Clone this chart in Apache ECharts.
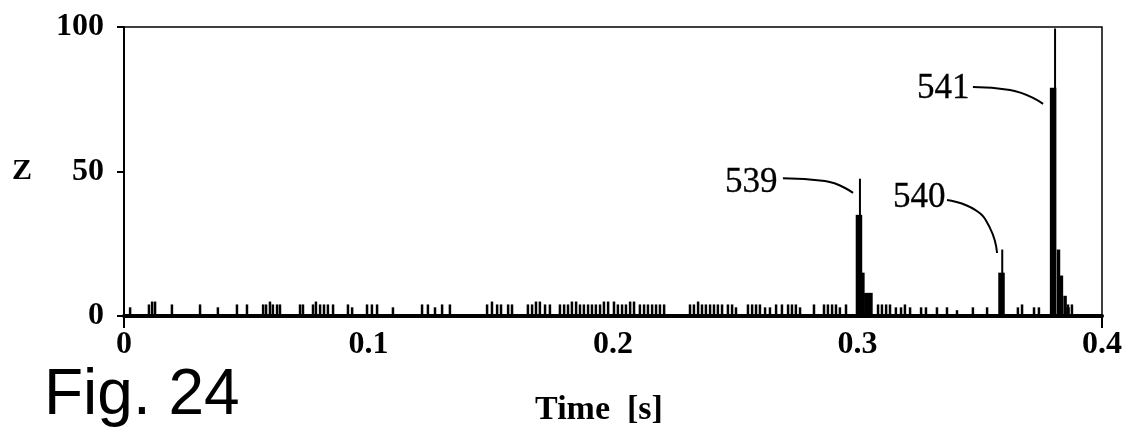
<!DOCTYPE html>
<html>
<head>
<meta charset="utf-8">
<script src="https://cdn.jsdelivr.net/npm/echarts@6/dist/echarts.min.js"></script>
<style>
html,body{margin:0;padding:0;background:#fff;}
#chart{width:1141px;height:432px;}
</style>
</head>
<body>
<div id="chart"></div>
<script>
// ---- data ----
const xTicks = [0, 0.1, 0.2, 0.3, 0.4];
const yTicks = [0, 50, 100];

// small background spikes: time [s] and Z value
const noiseTimes = [0.0025,0.0102,0.0115,0.0127,0.0196,0.0311,0.0384,0.0462,0.0503,0.0569,0.0581,0.0597,0.0609,0.0626,0.0638,0.0720,0.0732,0.0773,0.0785,0.0802,0.0818,0.0834,0.0855,0.0916,0.0933,0.0994,0.1014,0.1035,0.1100,0.1219,0.1243,0.1272,0.1301,0.1333,0.1485,0.1505,0.1526,0.1542,0.1571,0.1587,0.1652,0.1669,0.1685,0.1701,0.1722,0.1742,0.1783,0.1800,0.1816,0.1832,0.1849,0.1865,0.1881,0.1898,0.1914,0.1930,0.1947,0.1963,0.1980,0.2004,0.2020,0.2037,0.2053,0.2070,0.2086,0.2110,0.2127,0.2143,0.2160,0.2176,0.2192,0.2209,0.2315,0.2331,0.2348,0.2364,0.2380,0.2397,0.2413,0.2429,0.2446,0.2470,0.2487,0.2503,0.2552,0.2569,0.2585,0.2601,0.2622,0.2642,0.2667,0.2691,0.2716,0.2732,0.2748,0.2765,0.2822,0.2863,0.2879,0.2896,0.2912,0.2928,0.2953,0.3084,0.3100,0.3117,0.3133,0.3157,0.3178,0.3194,0.3215,0.3260,0.3280,0.3325,0.3366,0.3407,0.3472,0.3530,0.3656,0.3673,0.3722,0.3742,0.3861,0.3877,0.3955];
const noiseValues = [3,4,5,5,4,4,3,4,4,4,4,5,4,4,4,4,4,4,5,4,4,4,4,4,3,4,4,4,3,4,4,3,4,4,4,5,4,4,4,4,4,4,5,5,4,4,4,4,4,5,5,4,4,4,4,4,4,5,5,5,4,4,4,5,5,4,4,4,4,4,4,4,4,4,5,4,4,4,4,4,4,4,4,3,4,4,4,4,3,3,4,4,4,4,4,3,4,4,4,4,4,3,4,4,4,4,4,3,3,4,3,3,3,3,3,2,3,3,3,4,3,3,4,4];

// main peaks (labelled 539, 540, 541)
const peakLineTimes  = [0.3010, 0.3592, 0.3808];
const peakLineValues = [47.5, 23, 99.5];
const peakBlockTimes  = [0.3006, 0.3589, 0.3800];
const peakBlockValues = [35, 15, 79];
const tailTimes  = [0.3022, 0.3034, 0.3046, 0.3055, 0.3822, 0.3834, 0.3849, 0.3861];
const tailValues = [15, 8, 8, 8, 23, 14, 7, 3];

// annotations
const annoLabels = ['539', '540', '541'];
const annoAnchor = [[0.2675, 46.0], [0.3362, 40.8], [0.3460, 78.6]];
const leader539 = [[0.2695, 47.7], [0.2867, 46.7], [0.2982, 42.6]];
const leader540 = [[0.3366, 40.1], [0.3481, 36.7], [0.3542, 30.4], [0.3571, 21.8]];
const leader541 = [[0.3472, 79.2], [0.3624, 78.2], [0.3759, 73.4]];

// ---- chart ----
function zip(a, b) { return a.map((v, i) => [v, b[i]]); }
function spikeRenderer(w) {
  return function (params, api) {
    const t = api.value(0), v = api.value(1);
    const top = api.coord([t, v]);
    const bot = api.coord([t, 0]);
    return {
      type: 'rect',
      shape: { x: top[0] - w / 2, y: top[1], width: w, height: bot[1] - top[1] },
      style: { fill: '#000' }
    };
  };
}
const serif = '"Liberation Serif", "Times New Roman", serif';
const leaderStyle = { color: '#000', width: 2 };

const chart = echarts.init(document.getElementById('chart'), null, { renderer: 'canvas' });
chart.setOption({
  animation: false,
  backgroundColor: '#fff',
  grid: { left: 124, right: 39, top: 27, bottom: 116, show: true, borderColor: '#000', borderWidth: 1.5, backgroundColor: 'transparent' },
  xAxis: {
    type: 'value', min: xTicks[0], max: xTicks[xTicks.length - 1], interval: 0.1,
    name: 'Time  [s]', nameLocation: 'middle', nameGap: 77,
    nameTextStyle: { fontFamily: serif, fontWeight: 'bold', fontSize: 34, color: '#000', padding: [0, 28, 0, 0] },
    axisLine: { show: true, lineStyle: { color: '#000', width: 4 } },
    axisTick: { show: true, customValues: [0, 0.4], length: 12, inside: false, lineStyle: { color: '#000', width: 2 } },
    splitLine: { show: false },
    axisLabel: { margin: 13, fontFamily: serif, fontWeight: 'bold', fontSize: 32, color: '#000',
      formatter: v => String(v) }
  },
  yAxis: {
    type: 'value', min: yTicks[0], max: yTicks[yTicks.length - 1], interval: 50,
    name: 'Z', nameLocation: 'middle', nameRotate: 0, nameGap: 92,
    nameTextStyle: { fontFamily: serif, fontWeight: 'bold', fontSize: 30, color: '#000', padding: [8, 0, 0, 0] },
    axisLine: { show: true, lineStyle: { color: '#000', width: 2 } },
    axisTick: { show: true, length: 7, lineStyle: { color: '#000', width: 2 } },
    splitLine: { show: false },
    axisLabel: { margin: 20, fontFamily: serif, fontWeight: 'bold', fontSize: 32, color: '#000' }
  },
  graphic: [{
    type: 'text', left: 44, top: 364,
    style: { text: 'Fig. 24', fontFamily: '"Liberation Sans", Arial, sans-serif', fontSize: 64, fill: '#000' }
  }],
  series: [
    { type: 'custom', renderItem: spikeRenderer(2.5), encode: { x: 0, y: 1 }, data: zip(noiseTimes, noiseValues), silent: true },
    { type: 'custom', renderItem: spikeRenderer(6.5), encode: { x: 0, y: 1 }, data: zip(peakBlockTimes, peakBlockValues), silent: true },
    { type: 'custom', renderItem: spikeRenderer(3.5), encode: { x: 0, y: 1 }, data: zip(tailTimes, tailValues), silent: true },
    { type: 'custom', renderItem: spikeRenderer(2), encode: { x: 0, y: 1 }, data: zip(peakLineTimes, peakLineValues), silent: true },
    { type: 'line', smooth: true, symbol: 'none', lineStyle: leaderStyle, data: leader539, silent: true },
    { type: 'line', smooth: true, symbol: 'none', lineStyle: leaderStyle, data: leader540, silent: true },
    { type: 'line', smooth: true, symbol: 'none', lineStyle: leaderStyle, data: leader541, silent: true },
    {
      type: 'scatter', symbolSize: 1, silent: true,
      itemStyle: { color: '#fff', opacity: 0 },
      data: annoAnchor.map((p, i) => ({ value: p, name: annoLabels[i] })),
      label: { show: true, position: 'left', distance: 0, formatter: p => p.name, opacity: 1,
        fontFamily: serif, fontSize: 35, color: '#000', textBorderWidth: 0.3, textBorderColor: '#000' }
    }
  ]
});
</script>
</body>
</html>
